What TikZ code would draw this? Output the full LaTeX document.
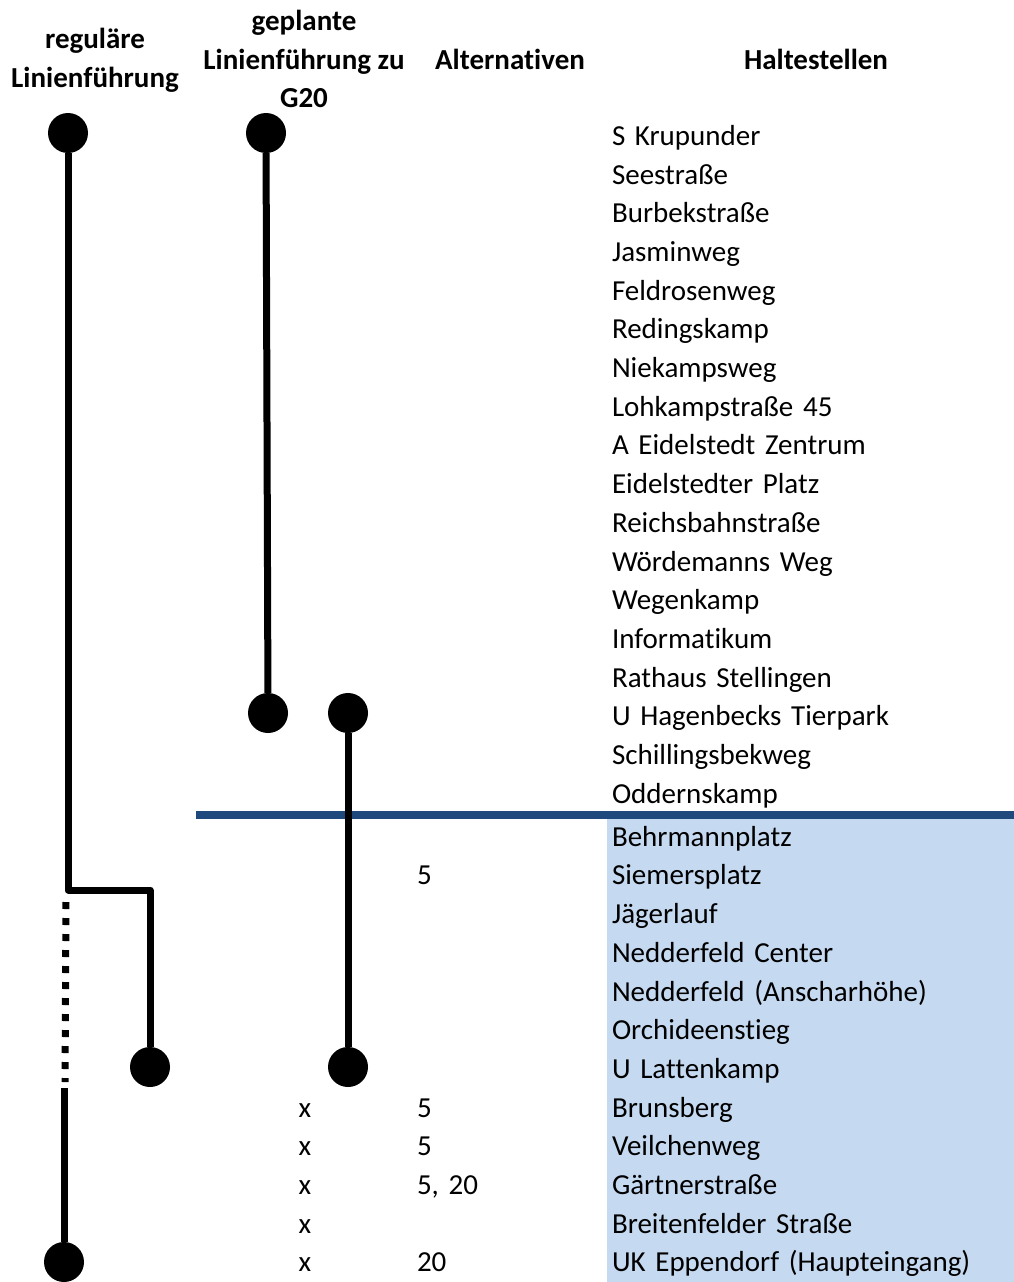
\documentclass[tikz,border=0pt]{standalone}
\usepackage{fontspec}
\setmainfont{Carlito}[Ligatures=NoCommon]
\usepackage{tikz}
\usetikzlibrary{arrows}

\definecolor{ruleblue}{RGB}{31,73,125}
\definecolor{cellblue}{RGB}{197,217,241}

\begin{document}
\begin{tikzpicture}[-,x=1pt,y=-1pt,node distance=38.7pt,line width=7pt,
                    line join=round,font=\fontsize{29}{38.7}\selectfont]
  \tikzstyle{stopdot}=[circle,fill=black,inner sep=0pt,outer sep=0pt,minimum size=40pt]
  \tikzstyle{halt}=[inner sep=0pt,text width=400pt,align=left,text height=18.7pt,text depth=0pt]
  \tikzstyle{altcol}=[inner sep=0pt,text width=100pt,align=left,text height=18.7pt,text depth=0pt]
  \tikzstyle{kreuz}=[inner sep=0pt,text height=18.7pt,text depth=0pt]
  \tikzstyle{head}=[align=center,font=\fontsize{29}{38.7}\selectfont\bfseries]

  \useasboundingbox (0,0) rectangle (1014,1282);
  \fill[cellblue] (607,818) rectangle (1014,1282);
  \draw[ruleblue,line width=7.5pt] (196,815) -- (1014,815);

  \node[head] (H1) at (95,60)  {reguläre\\Linienführung};
  \node[head] (H2) at (304,59) {geplante\\Linienführung zu\\G20};
  \node[head] (H3) at (510,59) {Alternativen};
  \node[head] (H4) at (816,59) {Haltestellen};

  \node[halt] (s1) at (812,136) {S Krupunder};
  \node[halt] (s2)  [below of=s1]  {Seestraße};
  \node[halt] (s3)  [below of=s2]  {Burbekstraße};
  \node[halt] (s4)  [below of=s3]  {Jasminweg};
  \node[halt] (s5)  [below of=s4]  {Feldrosenweg};
  \node[halt] (s6)  [below of=s5]  {Redingskamp};
  \node[halt] (s7)  [below of=s6]  {Niekampsweg};
  \node[halt] (s8)  [below of=s7]  {Lohkampstraße 45};
  \node[halt] (s9)  [below of=s8]  {A Eidelstedt Zentrum};
  \node[halt] (s10) [below of=s9]  {Eidelstedter Platz};
  \node[halt] (s11) [below of=s10] {Reichsbahnstraße};
  \node[halt] (s12) [below of=s11] {Wördemanns Weg};
  \node[halt] (s13) [below of=s12] {Wegenkamp};
  \node[halt] (s14) [below of=s13] {Informatikum};
  \node[halt] (s15) [below of=s14] {Rathaus Stellingen};
  \node[halt] (s16) [below of=s15] {U Hagenbecks Tierpark};
  \node[halt] (s17) [below of=s16] {Schillingsbekweg};
  \node[halt] (s18) [below of=s17] {Oddernskamp};
  \node[halt] (s19) [below of=s18,node distance=43pt] {Behrmannplatz};
  \node[halt] (s20) [below of=s19] {Siemersplatz};
  \node[halt] (s21) [below of=s20] {Jägerlauf};
  \node[halt] (s22) [below of=s21] {Nedderfeld Center};
  \node[halt] (s23) [below of=s22] {Nedderfeld (Anscharhöhe)};
  \node[halt] (s24) [below of=s23] {Orchideenstieg};
  \node[halt] (s25) [below of=s24] {U Lattenkamp};
  \node[halt] (s26) [below of=s25] {Brunsberg};
  \node[halt] (s27) [below of=s26] {Veilchenweg};
  \node[halt] (s28) [below of=s27] {Gärtnerstraße};
  \node[halt] (s29) [below of=s28] {Breitenfelder Straße};
  \node[halt] (s30) [below of=s29] {UK Eppendorf (Haupteingang)};

  \node[altcol] (a20) [left of=s20,node distance=345pt] {5};
  \node[altcol] (a26) [left of=s26,node distance=345pt] {5};
  \node[altcol] (a27) [left of=s27,node distance=345pt] {5};
  \node[altcol] (a28) [left of=s28,node distance=345pt] {5, 20};
  \node[altcol] (a30) [left of=s30,node distance=345pt] {20};

  \node[kreuz] (x26) [left of=s26,node distance=507pt] {x};
  \node[kreuz] (x27) [left of=s27,node distance=507pt] {x};
  \node[kreuz] (x28) [left of=s28,node distance=507pt] {x};
  \node[kreuz] (x29) [left of=s29,node distance=507pt] {x};
  \node[kreuz] (x30) [left of=s30,node distance=507pt] {x};

  % reguläre Linienführung
  \node[stopdot] (R1) at (68,133)  {};
  \node[stopdot] (R2) at (150,1067) {};
  \node[stopdot] (R3) at (64,1262) {};
  \coordinate (K1) at (68,890);
  \coordinate (K2) at (150,890);
  \coordinate (D1) at (66,902);
  \coordinate (D2) at (65,1082);
  \coordinate (D3) at (64,1088);

  % geplante Linienführung
  \node[stopdot] (G1) at (266,133) {};
  \node[stopdot] (G2) at (268,713) {};
  \node[stopdot] (G3) at (348,713) {};
  \node[stopdot] (G4) at (348,1067) {};

  \draw (R1) -- (K1) -- (K2) -- (R2);
  \draw[dash pattern=on 7pt off 9pt] (D1) -- (D2);
  \draw (D3) -- (R3);
  \draw (G1) -- (G2);
  \draw (G3) -- (G4);
\end{tikzpicture}
\end{document}
